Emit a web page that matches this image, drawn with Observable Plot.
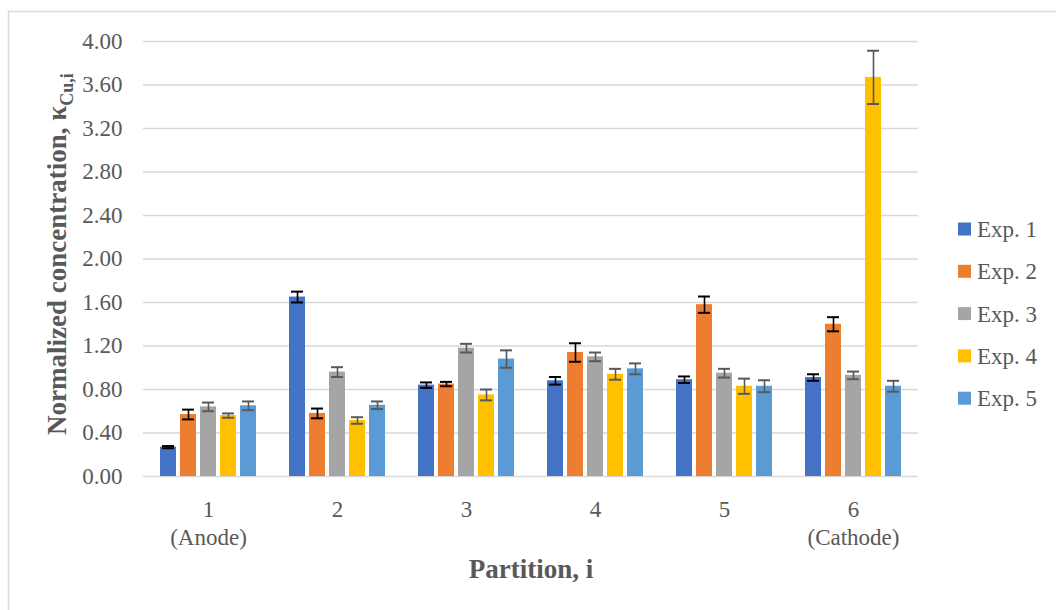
<!DOCTYPE html>
<html>
<head>
<meta charset="utf-8">
<script src="https://cdn.jsdelivr.net/npm/d3@7"></script>
<script src="https://cdn.jsdelivr.net/npm/@observablehq/plot@0.6"></script>
<style>
  html, body { margin: 0; padding: 0; background: #ffffff; }
  #chart { width: 1056px; height: 610px; overflow: hidden; }
</style>
</head>
<body>
<div id="chart"></div>
<script>
// Partitions along the cell, anode to cathode
const partitions = ["1", "2", "3", "4", "5", "6"];
const partitionLabels = ["1\n(Anode)", "2", "3", "4", "5", "6\n(Cathode)"];
const experiments = ["Exp. 1", "Exp. 2", "Exp. 3", "Exp. 4", "Exp. 5"];
const colors = ["#4472C4", "#ED7D31", "#A5A5A5", "#FFC000", "#5B9BD5"];
const errorColors = ["#000000", "#000000", "#595959", "#595959", "#595959"];

// Normalized Cu concentration per partition, with error half-widths
const exp1 = [0.27, 1.65, 0.84, 0.88, 0.89, 0.91];
const exp1Err = [0.01, 0.05, 0.025, 0.035, 0.03, 0.03];
const exp2 = [0.57, 0.58, 0.85, 1.14, 1.58, 1.40];
const exp2Err = [0.045, 0.045, 0.02, 0.085, 0.075, 0.065];
const exp3 = [0.64, 0.96, 1.18, 1.10, 0.95, 0.93];
const exp3Err = [0.04, 0.045, 0.04, 0.04, 0.04, 0.035];
const exp4 = [0.56, 0.515, 0.75, 0.94, 0.83, 3.67];
const exp4Err = [0.02, 0.03, 0.05, 0.05, 0.07, 0.245];
const exp5 = [0.65, 0.655, 1.08, 0.99, 0.83, 0.83];
const exp5Err = [0.04, 0.035, 0.08, 0.05, 0.055, 0.05];

const yTicks = [0, 0.4, 0.8, 1.2, 1.6, 2.0, 2.4, 2.8, 3.2, 3.6, 4.0];

const seriesValues = [exp1, exp2, exp3, exp4, exp5];
const seriesErrors = [exp1Err, exp2Err, exp3Err, exp4Err, exp5Err];

const rows = [];
experiments.forEach((exp, k) => {
  partitions.forEach((p, i) => {
    rows.push({
      partition: p,
      experiment: exp,
      k,
      value: seriesValues[k][i],
      lo: seriesValues[k][i] - seriesErrors[k][i],
      hi: seriesValues[k][i] + seriesErrors[k][i]
    });
  });
});

const font = "'Liberation Serif', 'Times New Roman', serif";
const textColor = "#595959";
const barStep = 20; // offset between adjacent bars within a partition

const seriesMarks = experiments.flatMap((exp, k) => {
  const data = rows.filter(d => d.k === k);
  const dx = (k - 2) * barStep;
  return [
    Plot.barY(data, {x: "partition", y: "value", fill: "experiment", dx, inset: 0}),
    Plot.ruleX(data, {x: "partition", y1: "lo", y2: "hi", stroke: errorColors[k], strokeWidth: 1.6, dx}),
    Plot.tickY(data, {x: "partition", y: "hi", stroke: errorColors[k], strokeWidth: 2, dx, insetLeft: 2, insetRight: 2}),
    Plot.tickY(data, {x: "partition", y: "lo", stroke: errorColors[k], strokeWidth: 2, dx, insetLeft: 2, insetRight: 2})
  ];
});

const chart = Plot.plot({
  width: 1056,
  height: 610,
  marginLeft: 143,
  marginRight: 138,
  marginTop: 41,
  marginBottom: 134,
  style: {fontFamily: font, background: "#ffffff", overflow: "visible"},
  x: {domain: partitions, paddingInner: 0.876, paddingOuter: 0.438, axis: null},
  y: {domain: [0, 4], axis: null},
  color: {domain: experiments, range: colors},
  marks: [
    Plot.gridY(yTicks, {stroke: "#d9d9d9", strokeOpacity: 1, strokeWidth: 1.5}),
    Plot.axisY(yTicks, {
      tickSize: 0,
      tickPadding: 21,
      tickFormat: d => d.toFixed(2),
      fontSize: 23,
      color: textColor,
      label: null
    }),
    Plot.axisX({
      tickSize: 0,
      tickPadding: 21,
      tickFormat: d => partitionLabels[partitions.indexOf(d)],
      fontSize: 23,
      lineHeight: 1.22,
      color: textColor,
      label: null
    }),
    ...seriesMarks,
    Plot.text(["Partition, i"], {
      frameAnchor: "bottom",
      dx: 0,
      dy: 101,
      lineAnchor: "bottom",
      fontSize: 27,
      fontWeight: "bold",
      fill: textColor,
      text: d => d
    })
  ]
});

const svg = d3.select(chart);

// Chart-area border
svg.insert("rect", ":first-child")
  .attr("x", 8.5).attr("y", 11.5)
  .attr("width", 1100).attr("height", 700)
  .attr("fill", "none").attr("stroke", "#d9d9d9").attr("stroke-width", 1.5);

// Rotated y-axis title with subscript
const yTitle = svg.append("text")
  .attr("transform", "translate(66,435) rotate(-90)")
  .attr("font-family", font)
  .attr("font-size", 27)
  .attr("font-weight", "bold")
  .attr("fill", textColor)
  .attr("text-anchor", "start");
yTitle.append("tspan").text("Normalized concentration, κ");
yTitle.append("tspan").attr("font-size", 18).attr("dy", 7).text("Cu,i");

// Legend
const legend = svg.append("g")
  .attr("font-family", font)
  .attr("font-size", 23)
  .attr("fill", textColor)
  .attr("text-anchor", "start");
experiments.forEach((exp, k) => {
  const cy = 229 + k * 42.3;
  legend.append("rect")
    .attr("x", 958).attr("y", cy - 6.5)
    .attr("width", 13).attr("height", 13)
    .attr("fill", colors[k]);
  legend.append("text")
    .attr("x", 977).attr("y", cy + 8)
    .text(exp);
});

document.getElementById("chart").appendChild(chart);
</script>
</body>
</html>
